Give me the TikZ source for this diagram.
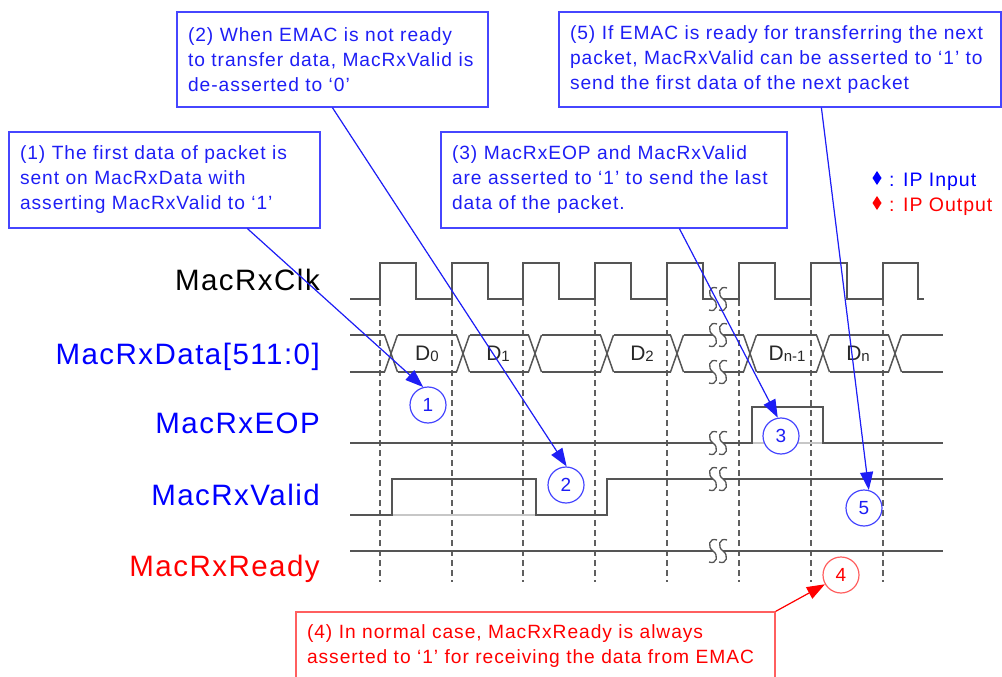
\documentclass[tikz,border=0pt]{standalone}
\usepackage{fontspec}
\setmainfont[LetterSpace=5]{Liberation Sans}
\newfontfamily\numfont{Liberation Sans}
\usetikzlibrary{arrows.meta}

\definecolor{sigline}{RGB}{85,85,85}
\definecolor{guidegray}{RGB}{95,95,95}
\definecolor{sigblue}{RGB}{0,0,255}
\definecolor{sigred}{RGB}{255,0,0}
\definecolor{notetext}{RGB}{30,30,245}
\definecolor{noteborder}{RGB}{70,70,255}
\definecolor{redborder}{RGB}{255,95,95}
\definecolor{datatext}{RGB}{40,40,40}

% break symbol (two S curves) on a signal line at (#1,#2)
\newcommand\sigbreak[2]{%
  \fill[white] (713,#2-3) rectangle (723,#2+3);
  \foreach \bx in {713,723}{
    \draw[sigline, line width=1.3pt]
      (\bx+4,#2-11) .. controls (\bx-4,#2-14) and (\bx-6,#2-4) .. (\bx,#2)
      .. controls (\bx+6,#2+4) and (\bx+4,#2+14) .. (\bx-4,#2+11);
  }%
}

\begin{document}
\begin{tikzpicture}[x=1pt,y=-1pt,
  sig/.style={draw=sigline, line width=1.5pt},
  sigshade/.style={draw=black!22, line width=1.5pt},
  guide/.style={draw=guidegray, line width=1.4pt, dash pattern=on 6pt off 4pt},
  siglabel/.style={anchor=base east, inner sep=0pt, font=\fontsize{29.5}{31}\selectfont},
  datalabel/.style={text=datatext, inner sep=0pt, font=\numfont\fontsize{21}{22}\selectfont},
  note/.style={draw=noteborder, line width=1.2pt, text=notetext, align=left,
    inner xsep=11pt, inner ysep=0pt, font=\fontsize{19.2}{25}\selectfont},
  rednote/.style={note, draw=redborder, text=sigred},
  marker/.style={circle, draw=noteborder, line width=1.2pt, fill=white, text=notetext,
    minimum size=36pt, inner sep=0pt, font=\numfont\fontsize{19}{20}\selectfont},
  redmarker/.style={marker, draw=redborder, text=sigred},
  pointer/.style={draw=notetext, fill=notetext, line width=1.2pt, -{Triangle[length=18pt,width=13pt]}},
  redpointer/.style={pointer, draw=sigred, fill=sigred},
]
\useasboundingbox (0,0) rectangle (1002,677);

% clock edge guides
\foreach \gx in {380,452,523,595,667,739,811,883}
  \draw[guide] (\gx,300) -- (\gx,582);

% signal names
\node[siglabel] (lclk)   at (320,290) {MacRxClk};
\node[siglabel, text=sigblue] (ldata)  at (320,364) {MacRxData[511:0]};
\node[siglabel, text=sigblue] (leop)   at (320,433) {MacRxEOP};
\node[siglabel, text=sigblue] (lvalid) at (320,505) {MacRxValid};
\node[siglabel, text=sigred]  (lready) at (320,576) {MacRxReady};

% MacRxClk
\draw[sig] (350,299) -- (380,299) -- (380,263) -- (416,263) -- (416,299)
  -- (452,299) -- (452,263) -- (488,263) -- (488,299) -- (523,299) -- (523,263)
  -- (559,263) -- (559,299) -- (595,299) -- (595,263) -- (631,263) -- (631,299)
  -- (667,299) -- (667,263) -- (703,263) -- (703,299) -- (739,299) -- (739,263)
  -- (775,263) -- (775,299) -- (811,299) -- (811,263) -- (847,263) -- (847,299)
  -- (883,299) -- (883,263) -- (918,263) -- (918,299) -- (924,299);

% MacRxData bus
\foreach \a/\b in {350/384.5, 397.5/456.5, 469.5/528.5, 541.5/600.5, 613.5/670.5,
                   683.5/743.5, 756.5/816.5, 829.5/888.5, 901.5/943}{
  \draw[sig] (\a,335) -- (\b,335);
  \draw[sig] (\a,372) -- (\b,372);
}
\foreach \c in {391,463,535,607,677,750,823,895}{
  \draw[sig] (\c-6.5,335) -- (\c+6.5,372);
  \draw[sig] (\c-6.5,372) -- (\c+6.5,335);
}
\node[datalabel] (d0) at (427,354) {D\raisebox{-1.5pt}{\fontsize{15}{15}\selectfont 0}};
\node[datalabel] (d1) at (498,354) {D\raisebox{-1.5pt}{\fontsize{15}{15}\selectfont 1}};
\node[datalabel] (d2) at (642,354) {D\raisebox{-1.5pt}{\fontsize{15}{15}\selectfont 2}};
\node[datalabel] (dn1) at (787,354) {D\raisebox{-1.5pt}{\fontsize{15}{15}\selectfont n-1}};
\node[datalabel] (dn) at (858,354) {D\raisebox{-1.5pt}{\fontsize{15}{15}\selectfont n}};

% MacRxEOP
\draw[sigshade] (752,443) -- (823,443);
\draw[sig] (350,443) -- (752,443) -- (752,407) -- (823,407) -- (823,443) -- (943,443);

% MacRxValid
\draw[sigshade] (392,515) -- (536,515);
\draw[sig] (350,515) -- (392,515) -- (392,479) -- (536,479) -- (536,515)
  -- (607,515) -- (607,479) -- (943,479);

% MacRxReady
\draw[sig] (350,551) -- (943,551);

% time breaks
\sigbreak{718}{299}
\sigbreak{718}{335}
\sigbreak{718}{372}
\sigbreak{718}{443}
\sigbreak{718}{479}
\sigbreak{718}{551}

% legend
\fill[sigblue] (877,171) -- (881.5,178) -- (877,185) -- (872.5,178) -- cycle;
\fill[sigred]  (877,196) -- (881.5,203) -- (877,210) -- (872.5,203) -- cycle;
\node[anchor=base west, inner sep=0pt, text=sigblue, font=\fontsize{19.5}{20}\selectfont] (lin) at (889,186) {: IP Input};
\node[anchor=base west, inner sep=0pt, text=sigred, font=\fontsize{19.5}{20}\selectfont] (lout) at (889,211) {: IP Output};

% callouts
\node[note, text width=289pt, minimum height=96pt] (b1) at (164.5,180)
  {(1) The first data of packet is\\sent on MacRxData with\\asserting MacRxValid to ‘1’};
\node[note, text width=289pt, minimum height=95pt] (b2) at (332.5,59.5)
  {(2) When EMAC is not ready\\to transfer data, MacRxValid is\\de-asserted to ‘0’};
\node[note, text width=324pt, minimum height=96pt] (b3) at (614,180)
  {(3) MacRxEOP and MacRxValid\\are asserted to ‘1’ to send the last\\data of the packet.};
\node[note, text width=420pt, minimum height=95pt] (b5) at (780,59.5)
  {(5) If EMAC is ready for transferring the next\\packet, MacRxValid can be asserted to ‘1’ to\\send the first data of the next packet};
\node[rednote, text width=457pt, minimum height=69pt] (b4) at (535.5,646.5)
  {(4) In normal case, MacRxReady is always\\asserted to ‘1’ for receiving the data from EMAC};

% numbered markers
\node[marker] (c1) at (428,405) {1};
\node[marker] (c2) at (566,485) {2};
\node[marker] (c3) at (781,436) {3};
\node[marker] (c5) at (864,508) {5};
\node[redmarker] (c4) at (841,575) {4};

% pointers from callouts to markers
\draw[pointer] ([xshift=239pt]b1.south west) -- (c1.105);
\draw[pointer] ([xshift=156pt]b2.south west) -- (c2.88);
\draw[pointer] ([xshift=239pt]b3.south west) -- (c3.100);
\draw[pointer] ([xshift=263pt]b5.south west) -- (c5.75);
\draw[redpointer] (b4.north east) -- (c4.210);
\end{tikzpicture}
\end{document}
